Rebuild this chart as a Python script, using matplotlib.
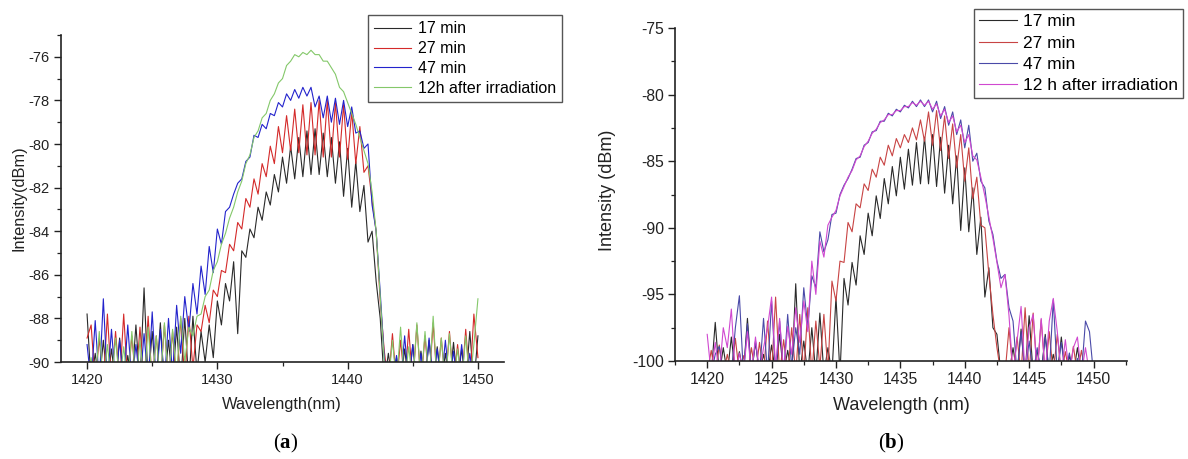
import numpy as np
import matplotlib
matplotlib.use('Agg')
import matplotlib.pyplot as plt
from matplotlib.ticker import MultipleLocator

# common wavelength grid (nm)
wavelength = np.linspace(1420, 1450, 97)

# ---------------- panel (a) ----------------
a_17 = [-87.8, -91, -89.6, -91, -89.0, -91, -89.4, -91, -88.9, -91,
        -89.7, -91, -88.3, -91, -86.6, -91, -88.6, -91, -88.2, -91,
        -89.0, -91, -88.4, -91, -88.0, -91, -87.9, -90.5, -88.6, -90.0,
        -88.3, -89.8, -87.2, -88.3, -86.4, -87.2, -85.4, -88.7, -84.9, -85.2,
        -83.9, -84.3, -82.9, -83.5, -82.2, -82.8, -81.4, -82.2, -80.6, -81.8,
        -80.1, -81.6, -79.7, -81.5, -79.4, -81.4, -79.3, -81.4, -79.5, -81.5,
        -79.7, -81.8, -79.9, -82.4, -80.2, -82.9, -80.8, -83.1, -81.9, -84.5,
        -84.0, -86.3, -88.0, -91, -89.6, -91, -89.8, -91, -89.4, -91,
        -89.2, -91, -89.5, -91, -89.0, -91, -89.3, -91, -89.6, -91,
        -89.1, -91, -89.4, -91, -88.6, -91, -88.8]
a_27 = [-88.9, -88.3, -91, -88.9, -91, -87.8, -91, -88.6, -91, -87.8,
        -91, -88.8, -91, -88.4, -91, -87.9, -91, -88.8, -91, -88.3,
        -91, -88.6, -91, -88.0, -90.8, -87.9, -90.3, -88.3,
        -88.6, -87.4,
        -88.2, -86.7, -87.0, -85.8, -85.9, -84.6, -84.9, -83.6, -83.9, -82.5,
        -82.9, -81.6, -82.3, -80.9, -81.5, -80.1, -80.9, -79.2, -80.4, -78.7,
        -80.3, -78.4, -80.4, -78.2, -80.5, -78.1, -80.5, -78.0, -80.6, -78.0,
        -80.6, -78.1, -80.6, -78.2, -80.7, -78.5, -80.9, -79.2, -81.3, -81.0,
        -82.6, -84.0, -87.2, -89.5,
        -91, -88.7, -91, -89.0, -91, -88.5,
        -91, -88.3, -91, -88.8, -91, -88.2, -91, -88.9, -91, -88.6,
        -91, -89.2, -91, -88.5, -91, -87.8, -89.8]
a_47 = [-89.2, -91, -88.1, -91, -87.1, -91, -88.5, -91, -89.0, -91,
        -88.3, -91, -89.2, -91, -88.7, -91, -87.7, -91, -88.5, -91,
        -88.0, -90.6, -87.4, -89.6, -87.0, -88.6, -86.4, -87.8, -85.6, -86.9,
        -84.7, -85.9, -83.9, -84.6, -83.1, -82.9, -82.3, -81.8, -81.6, -80.8,
        -80.6, -79.6, -79.7, -79.1, -79.3, -78.6, -78.7, -78.1, -78.3, -77.7,
        -78.0, -77.5, -77.9, -77.4, -77.8, -77.4, -78.3, -77.8, -78.8, -77.8,
        -79.0, -77.9, -79.1, -78.0, -79.2, -78.3, -79.5, -79.4, -80.2, -80.0,
        -82.8, -84.0, -86.8, -89.8, -91, -91, -89.7, -91, -88.8, -91,
        -89.2, -91, -89.6, -91, -88.9, -91, -89.4, -91, -89.0, -91,
        -89.5, -91, -89.2, -91, -89.6, -91, -90.2]
a_12h = [-91, -89.8, -91, -88.6, -91, -89.2, -91, -88.9, -91, -89.3,
         -91, -88.6, -91, -89.0, -91, -88.4, -91, -88.8, -91, -88.2,
         -91, -88.5, -90.6, -87.9,
         -90.0, -88.4, -88.8, -87.9, -87.8, -87.0,
         -86.7, -85.8, -85.4, -84.6, -84.1, -83.4, -82.9, -82.2, -81.7, -80.9,
         -80.5, -79.7, -79.4, -78.8, -78.6, -78.0, -77.7, -77.2, -77.0, -76.4,
         -76.2, -75.9, -76.0, -75.8, -75.9, -75.7, -75.9, -75.9, -76.2, -76.2,
         -76.5, -76.8, -77.4, -77.6, -78.1, -78.6, -79.1, -79.7, -80.3, -80.9,
         -82.2, -84.0, -87.0, -90.0,
         -91, -89.0, -91, -88.4, -91, -89.3,
         -91, -88.2, -91, -88.6, -91, -87.9, -91, -88.9, -91, -88.7,
         -91, -89.4, -91, -88.8, -91, -89.2, -87.1]

# ---------------- panel (b) ----------------
b_17 = [-101, -101, -97.1, -101, -99.0, -101, -98.2, -101, -99.3, -101,
        -96.8, -101, -98.6, -101, -99.5, -101, -98.8, -101, -98.0, -101,
        -99.2, -101, -94.2, -101, -98.5, -101, -97.5, -101, -96.4, -101,
        -99.0, -101, -95.2, -101, -93.8, -95.8, -92.6, -94.3, -90.6, -92.0,
        -88.9, -90.6, -87.6, -89.3, -86.3, -88.2, -85.4, -87.6, -84.7, -87.1,
        -84.1, -86.8, -83.6, -86.7, -83.2, -86.7, -83.0, -86.9, -83.2, -87.4,
        -83.8, -88.2, -84.6, -90.2, -85.5, -90.3, -87.0, -92.0, -89.2, -95.2,
        -93.0, -97.5, -98.0, -101, -101, -101, -99.0, -101, -97.6, -101,
        -96.6, -101, -99.2, -101, -98.0, -101, -99.5, -101, -98.2, -101,
        -99.6, -101, -99.0, -101, -101, -101, -101]
b_27 = [-101, -99.2, -101, -98.8, -101, -99.5, -101, -98.3, -101, -99.6,
        -101, -99.0, -101, -98.6, -101, -97.0, -101, -95.2, -101, -98.4,
        -101, -97.5, -101, -96.5, -101, -96.0, -101, -97.0, -100.5, -96.5,
        -100.8, -94.0, -95.5, -92.5, -92.6, -89.6, -90.3, -88.2, -88.5, -86.7,
        -87.2, -85.6, -86.2, -84.7, -85.3, -83.8, -84.6, -83.3, -84.0, -83.0,
        -83.6, -82.5, -83.4, -81.9, -83.5, -81.3, -83.8, -81.2, -84.2, -81.6,
        -84.8, -82.2, -85.5, -83.0, -86.5, -84.0, -87.8, -86.2, -89.8, -90.0,
        -93.5, -96.5, -99.0, -101, -101, -97.5, -101, -98.2, -101, -96.0,
        -101, -96.4, -101, -96.9, -101, -97.8, -101, -98.0, -101, -99.3,
        -101, -98.9, -101, -99.2, -101, -101, -101]
b_47 = [-101, -101, -99.5, -98.9, -101, -100.2, -101, -97.5, -95.1, -101,
        -97.2, -101, -98.5, -101, -96.8, -101, -95.5, -101, -97.0, -101,
        -96.5, -100.5, -97.5, -99.5, -94.5, -97.5, -93.6, -94.5, -90.3, -91.8,
        -90.9, -89.0, -88.9, -87.5, -86.8, -86.3, -85.6, -84.8, -84.7, -83.8,
        -83.6, -82.8, -82.7, -82.0, -82.0, -81.4, -81.6, -81.1, -81.3, -80.8,
        -81.0, -80.5, -80.9, -80.4, -80.9, -80.4, -81.3, -80.5, -81.8, -80.9,
        -82.3, -81.3, -83.0, -81.9, -84.0, -82.3, -85.0, -84.4, -86.5, -87.0,
        -89.5, -90.5, -92.5, -93.8, -93.5, -96.0, -97.0, -101, -97.8, -101,
        -98.5, -101, -99.0, -101, -98.2, -101, -95.4, -101, -98.6, -101,
        -99.4, -101, -99.8, -101, -97.0, -97.8, -101]
b_12h = [-98.0, -101, -98.6, -101, -97.5, -99.0, -96.1, -101, -99.4, -101,
         -97.8, -101, -98.2, -101, -99.0, -97.5, -95.2, -100.5, -96.8, -101,
         -97.4, -99.5, -96.0, -98.6, -95.5, -97.8, -92.5, -95.0, -91.0, -92.2,
         -89.8, -89.2, -88.7, -87.6, -86.9, -86.2, -85.7, -84.9, -84.6, -83.9,
         -83.5, -82.9, -82.6, -82.1, -81.9, -81.5, -81.5, -81.2, -81.2, -80.9,
         -80.9, -80.6, -80.8, -80.5, -80.8, -80.5, -81.1, -80.7, -81.6, -81.1,
         -82.1, -81.6, -82.8, -82.3, -83.6, -83.0, -84.6, -84.9, -86.2, -87.6,
         -89.2, -90.8, -92.6, -94.5, -93.5, -96.6, -101, -98.5, -95.9, -101,
         -97.5, -96.5, -101, -96.8, -101, -97.0, -95.3, -97.8, -101, -98.4,
         -101, -99.0, -98.2, -101, -99.0, -101, -101]

labels_a = ['17 min', '27 min', '47 min', '12h after irradiation']
labels_b = ['17 min', '27 min', '47 min', '12 h after irradiation']
colors_a = ['#2a2a2a', '#d42a2a', '#2323cc', '#84c86a']
colors_b = ['#2a2a2a', '#c84444', '#4a4aa8', '#d048d0']

plt.rcParams['font.family'] = ['Liberation Sans', 'DejaVu Sans']
plt.rcParams['axes.unicode_minus'] = False
plt.rcParams['mathtext.fontset'] = 'custom'
plt.rcParams['mathtext.rm'] = 'Liberation Serif'
plt.rcParams['mathtext.bf'] = 'Liberation Serif:bold'

W, H = 1188, 459
fig = plt.figure(figsize=(W / 100, H / 100), dpi=100)
ax1 = fig.add_axes([61 / W, 1 - 362 / H, (504 - 61) / W, (362 - 35) / H])
ax2 = fig.add_axes([675 / W, 1 - 361 / H, (1127 - 675) / W, (361 - 28) / H])


def style(ax, tick_fs):
    for s in ('top', 'right'):
        ax.spines[s].set_visible(False)
    for s in ('left', 'bottom'):
        ax.spines[s].set_linewidth(1.2)
        ax.spines[s].set_color('#222222')
    ax.tick_params(which='major', direction='out', length=5, width=1.0,
                   labelsize=tick_fs, colors='#222222', pad=3)
    ax.tick_params(which='minor', direction='out', length=3, width=0.9,
                   colors='#222222')


series_a = [a_17, a_27, a_47, a_12h]
for vals, lab, c in zip(series_a, labels_a, colors_a):
    ax1.plot(wavelength, vals, color=c, lw=0.8, label=lab)
ax1.set_xlim(1418, 1452)
ax1.set_ylim(-90, -75)
ax1.xaxis.set_major_locator(MultipleLocator(10))
ax1.xaxis.set_minor_locator(MultipleLocator(5))
ax1.yaxis.set_major_locator(MultipleLocator(2))
ax1.yaxis.set_minor_locator(MultipleLocator(1))
style(ax1, 10.5)
ax1.legend(loc='upper left', bbox_to_anchor=(368 / W, 1 - 15 / H),
           bbox_transform=fig.transFigure, borderaxespad=0, fancybox=False,
           edgecolor='#555555', framealpha=1, fontsize=11.5, handlelength=2.3,
           handletextpad=0.4, labelspacing=0.3, borderpad=0.4)
ax1.get_legend().get_frame().set_linewidth(1.0)

series_b = [b_17, b_27, b_47, b_12h]
for vals, lab, c in zip(series_b, labels_b, colors_b):
    ax2.plot(wavelength, vals, color=c, lw=0.8, label=lab)
ax2.set_xlim(1417.5, 1452.6)
ax2.set_ylim(-100, -75)
ax2.xaxis.set_major_locator(MultipleLocator(5))
ax2.xaxis.set_minor_locator(MultipleLocator(2.5))
ax2.yaxis.set_major_locator(MultipleLocator(5))
ax2.yaxis.set_minor_locator(MultipleLocator(2.5))
style(ax2, 11.3)
ax2.legend(loc='upper left', bbox_to_anchor=(974 / W, 1 - 9 / H),
           bbox_transform=fig.transFigure, borderaxespad=0, fancybox=False,
           edgecolor='#555555', framealpha=1, fontsize=12.5, handlelength=2.2,
           handletextpad=0.3, labelspacing=0.35, borderpad=0.3)
ax2.get_legend().get_frame().set_linewidth(1.0)

# axis titles
fig.text(282 / W, 1 - 404 / H, 'Wavelength(nm)', ha='center', va='center',
         fontsize=11.8, color='#222222')
fig.text(19 / W, 1 - 198 / H, 'Intensity(dBm)', ha='center', va='center',
         rotation=90, fontsize=11.8, color='#222222')
fig.text(901 / W, 1 - 405 / H, 'Wavelength (nm)', ha='center', va='center',
         fontsize=13, color='#222222')
fig.text(608 / W, 1 - 190 / H, 'Intensity (dBm)', ha='center', va='center',
         rotation=90, fontsize=13, color='#222222')

# panel labels
fig.text(286 / W, 1 - 443 / H, r'$(\mathbf{a})$', ha='center', va='center',
         fontsize=15, color='black')
fig.text(891 / W, 1 - 443 / H, r'$(\mathbf{b})$', ha='center', va='center',
         fontsize=15, color='black')

fig.savefig('out.png', dpi=100)
